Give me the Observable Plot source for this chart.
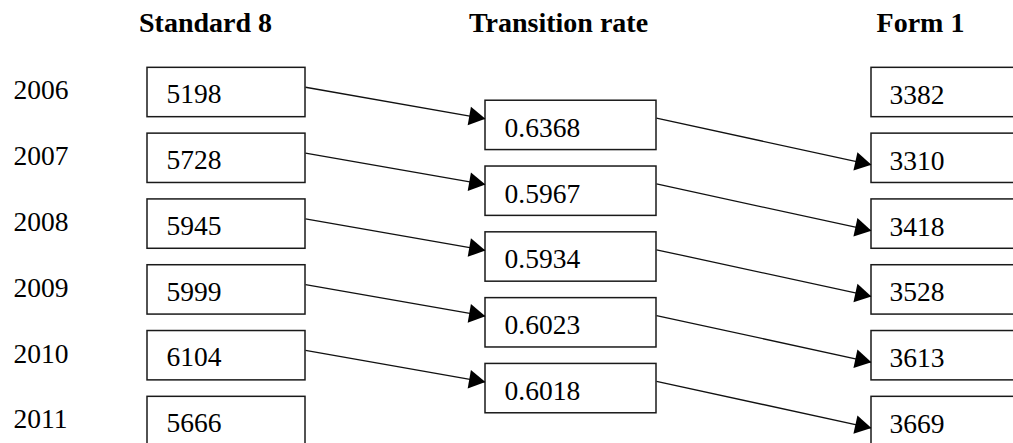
<!DOCTYPE html>
<html><head><meta charset="utf-8">
<script src="https://cdn.jsdelivr.net/npm/d3@7"></script>
<script src="https://cdn.jsdelivr.net/npm/@observablehq/plot@0.6"></script>
<style>
html,body{margin:0;padding:0;background:#fff;overflow:hidden;}
svg text{font-family:"Liberation Serif","Times New Roman",serif !important;}
</style></head><body><div id="chart"></div>
<script>
// ---- data ----
const years = [2006, 2007, 2008, 2009, 2010, 2011];
const standard8 = [5198, 5728, 5945, 5999, 6104, 5666];
const transitionRate = [0.6368, 0.5967, 0.5934, 0.6023, 0.6018];
const form1 = [3382, 3310, 3418, 3528, 3613, 3669];
const headers = ["Standard 8", "Transition rate", "Form 1"];

// ---- layout (not data) ----
const W = 1013, H = 443;
const ROW0 = 92, ROW5 = 421;
const rowPx = (ROW5 - ROW0) / 5;
const col = {year: 13, std: [147, 305], rate: [485, 656], form: [871, 1050]};
const headerX = [205, 558, 920];
const half = 0.375;
const textPad = 19;
const FONT = "'Liberation Serif', serif";
const FS = 27.5;
const TIP = 11; // distance from triangle centroid to its tip (px)

const yearRows = years.map((y, i) => ({row: i, label: String(y)}));
const stdRows = standard8.map((v, i) => ({row: i, label: String(v)}));
const rateRows = transitionRate.map((v, i) => ({row: i + 0.5, label: v.toFixed(4)}));
const formRows = form1.map((v, i) => ({row: i, label: String(v)}));
const headerRows = headers.map((h, i) => ({row: -1.05, x: headerX[i], label: h}));

// arrows: standard8[i] -> rate[i], rate[i] -> form1[i+1]
const arrows = [];
transitionRate.forEach((v, i) => {
  arrows.push({x1: col.std[1], y1: i - 0.08, x2: col.rate[0], y2: i + 0.5 - 0.1});
  arrows.push({x1: col.rate[1], y1: i + 0.5 - 0.11, x2: col.form[0], y2: i + 1 + 0.1});
});
arrows.forEach(a => {
  const dx = a.x2 - a.x1, dy = (a.y2 - a.y1) * rowPx;
  const th = Math.atan2(dy, dx);
  a.angle = th * 180 / Math.PI + 90;
  a.cx = a.x2 - TIP * Math.cos(th);
  a.cy = a.y2 - TIP * Math.sin(th) / rowPx;
});

const boxStyle = {fill: "white", stroke: "#1a1a1a", strokeWidth: 1.5};
const txt = {fontSize: FS, fontFamily: FONT, fill: "#000", textAnchor: "start", text: "label"};

const plot = Plot.plot({
  width: W, height: H,
  marginTop: 0, marginRight: 0, marginBottom: 0, marginLeft: 0,
  style: {background: "white", overflow: "hidden", fontFamily: FONT},
  x: {type: "linear", domain: [0, W], range: [0, W], axis: null},
  y: {type: "linear", domain: [0, 5], range: [ROW0, ROW5], axis: null},
  marks: [
    Plot.link(arrows, {x1: "x1", y1: "y1", x2: "x2", y2: "y2", stroke: "#111", strokeWidth: 1.3}),
    Plot.rect(stdRows, {x1: () => col.std[0], x2: () => col.std[1], y1: d => d.row - half, y2: d => d.row + half, ...boxStyle}),
    Plot.rect(rateRows, {x1: () => col.rate[0], x2: () => col.rate[1], y1: d => d.row - half, y2: d => d.row + half, ...boxStyle}),
    Plot.rect(formRows, {x1: () => col.form[0], x2: () => col.form[1], y1: d => d.row - half, y2: d => d.row + half, ...boxStyle}),
    Plot.dot(arrows, {x: "cx", y: "cy", rotate: "angle", symbol: "triangle", r: 7, fill: "#000", stroke: "none"}),
    Plot.text(yearRows, {x: () => col.year, y: d => d.row - 0.03, ...txt}),
    Plot.text(stdRows, {x: () => col.std[0] + textPad, y: d => d.row + 0.03, ...txt}),
    Plot.text(rateRows, {x: () => col.rate[0] + textPad, y: d => d.row + 0.04, ...txt}),
    Plot.text(formRows, {x: () => col.form[0] + textPad - 1, y: d => d.row + 0.04, ...txt}),
    Plot.text(headerRows, {x: "x", y: "row", text: "label", textAnchor: "middle", fontSize: 28, fontWeight: "bold", fontFamily: FONT, fill: "#000"})
  ]
});
document.getElementById("chart").appendChild(plot);
</script></body></html>
